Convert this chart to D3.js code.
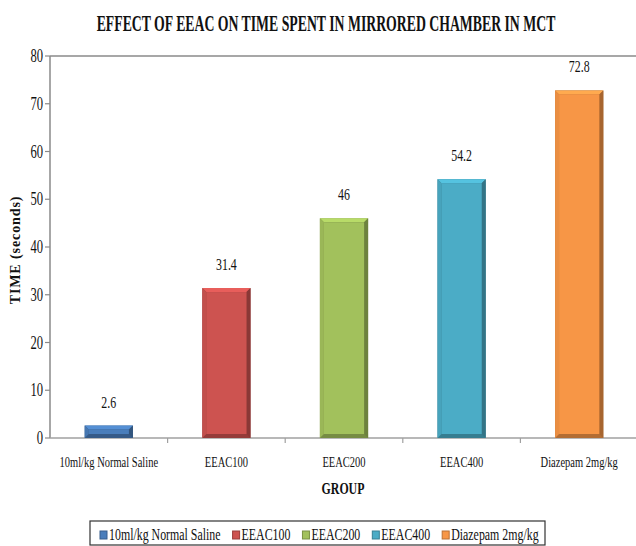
<!DOCTYPE html>
<html>
<head>
<meta charset="utf-8">
<script src="https://cdn.jsdelivr.net/npm/d3@7"></script>
<style>
  body { margin: 0; background: #fff; }
  text { font-family: "Liberation Serif", "Times New Roman", serif; fill: #111; }
</style>
</head>
<body>
<div id="chart"></div>
<script>
/* DATA */
const groups = ["10ml/kg Normal Saline", "EEAC100", "EEAC200", "EEAC400", "Diazepam 2mg/kg"];
const times = [2.6, 31.4, 46, 54.2, 72.8];
const colors = ["#4a7ebb", "#cd5350", "#a2c15c", "#4bacc6", "#f79646"];
const yTicks = [0, 10, 20, 30, 40, 50, 60, 70, 80];

/* CONSTANTS */
const width = 636,
  height = 546,
  margin = { top: 56, bottom: 108, left: 50, right: -2 },
  squeeze = 0.7;

const svg = d3.select("#chart")
  .append("svg")
  .attr("width", width)
  .attr("height", height);

// SCALES
const xScale = d3.scaleBand()
  .domain(groups)
  .range([margin.left, width - margin.right]);

const yScale = d3.scaleLinear()
  .domain([0, 80])
  .range([height - margin.bottom, margin.top]);

const barW = xScale.bandwidth() * 0.41;

// helper to draw narrow (condensed) serif text
function condText(sel, x, y, str, size, weight, anchor, sq) {
  return sel.append("text")
    .attr("transform", `translate(${x},${y}) scale(${sq || squeeze},1)`)
    .attr("text-anchor", anchor || "middle")
    .style("font-size", size + "px")
    .style("font-weight", weight || "normal")
    .text(str);
}

// TITLE - squeezed to fit its width in the reference
const title = condText(svg, 326, 31, "EFFECT OF EEAC ON TIME SPENT IN MIRRORED CHAMBER IN MCT", 23, "bold", "middle", 1);
const tw = title.node().getComputedTextLength();
title.attr("transform", `translate(326,31) scale(${459 / tw},1)`);

// plot frame (top edge)
svg.append("line")
  .attr("x1", margin.left).attr("x2", width)
  .attr("y1", yScale(80)).attr("y2", yScale(80))
  .attr("stroke", "#8a8a8a").attr("stroke-width", 1.5);

// Y AXIS
svg.append("line")
  .attr("x1", margin.left).attr("x2", margin.left)
  .attr("y1", yScale(0)).attr("y2", yScale(80))
  .attr("stroke", "#8a8a8a").attr("stroke-width", 1.5);

yTicks.forEach(t => {
  svg.append("line")
    .attr("x1", margin.left - 5).attr("x2", margin.left)
    .attr("y1", yScale(t)).attr("y2", yScale(t))
    .attr("stroke", "#8a8a8a").attr("stroke-width", 1.2);
  condText(svg, margin.left - 7, yScale(t) + 6, t, 18, "normal", "end");
});

// X AXIS
svg.append("line")
  .attr("x1", margin.left).attr("x2", width)
  .attr("y1", yScale(0)).attr("y2", yScale(0))
  .attr("stroke", "#a0a0a0").attr("stroke-width", 1.5);

groups.forEach((g, i) => {
  if (i > 0) {
    svg.append("line")
      .attr("x1", xScale(g)).attr("x2", xScale(g))
      .attr("y1", yScale(0)).attr("y2", yScale(0) + 5)
      .attr("stroke", "#a0a0a0").attr("stroke-width", 1.2);
  }
  condText(svg, xScale(g) + xScale.bandwidth() / 2, yScale(0) + 29, g, 15);
});

// axis titles
condText(svg, 343, 494, "GROUP", 17, "bold");

svg.append("text")
  .attr("transform", `translate(20,${250}) rotate(-90)`)
  .attr("text-anchor", "middle")
  .style("font-size", "14px")
  .style("font-weight", "bold")
  .style("letter-spacing", "0.9px")
  .text("TIME (seconds)");

// BARS (bevelled look)
const bars = svg.selectAll("g.bar")
  .data(groups)
  .join("g")
  .attr("class", "bar");

bars.each(function (g, i) {
  const sel = d3.select(this);
  const x0 = xScale(g) + (xScale.bandwidth() - barW) / 2;
  const x1 = x0 + barW;
  const y0 = yScale(times[i]);
  const y1 = yScale(0);
  const b = Math.min(4, (y1 - y0) / 3);
  const base = d3.color(colors[i]);

  sel.append("rect")
    .attr("x", x0).attr("y", y0)
    .attr("width", barW).attr("height", y1 - y0)
    .attr("fill", base.darker(0.9));
  // top bevel
  sel.append("polygon")
    .attr("points", [[x0, y0], [x1, y0], [x1 - b, y0 + b], [x0 + b, y0 + b]].join(" "))
    .attr("fill", base.brighter(0.35));
  // left bevel
  sel.append("polygon")
    .attr("points", [[x0, y0], [x0 + b, y0 + b], [x0 + b, y1 - b], [x0, y1]].join(" "))
    .attr("fill", base.darker(0.15));
  // right bevel
  sel.append("polygon")
    .attr("points", [[x1, y0], [x1 - b, y0 + b], [x1 - b, y1 - b], [x1, y1]].join(" "))
    .attr("fill", base.darker(1.1));
  // face
  sel.append("rect")
    .attr("x", x0 + b).attr("y", y0 + b)
    .attr("width", barW - 2 * b).attr("height", Math.max(0, y1 - y0 - 2 * b))
    .attr("fill", base);

  condText(svg, x0 + barW / 2, y0 - 18, times[i], 17);
});

// LEGEND
const legend = svg.append("g");
legend.append("rect")
  .attr("x", 90).attr("y", 521)
  .attr("width", 455).attr("height", 24)
  .attr("fill", "#fff")
  .attr("stroke", "#333").attr("stroke-width", 1.2);

let lx = 100;
groups.forEach((g, i) => {
  const c = d3.color(colors[i]);
  legend.append("rect")
    .attr("x", lx).attr("y", 531)
    .attr("width", 7).attr("height", 8)
    .attr("fill", c)
    .attr("stroke", c.darker(0.8)).attr("stroke-width", 1);
  const t = condText(legend, lx + 9, 540, g, 17, "normal", "start");
  const w = t.node().getComputedTextLength() * squeeze;
  lx += 9 + w + 12;
});
</script>
</body>
</html>
